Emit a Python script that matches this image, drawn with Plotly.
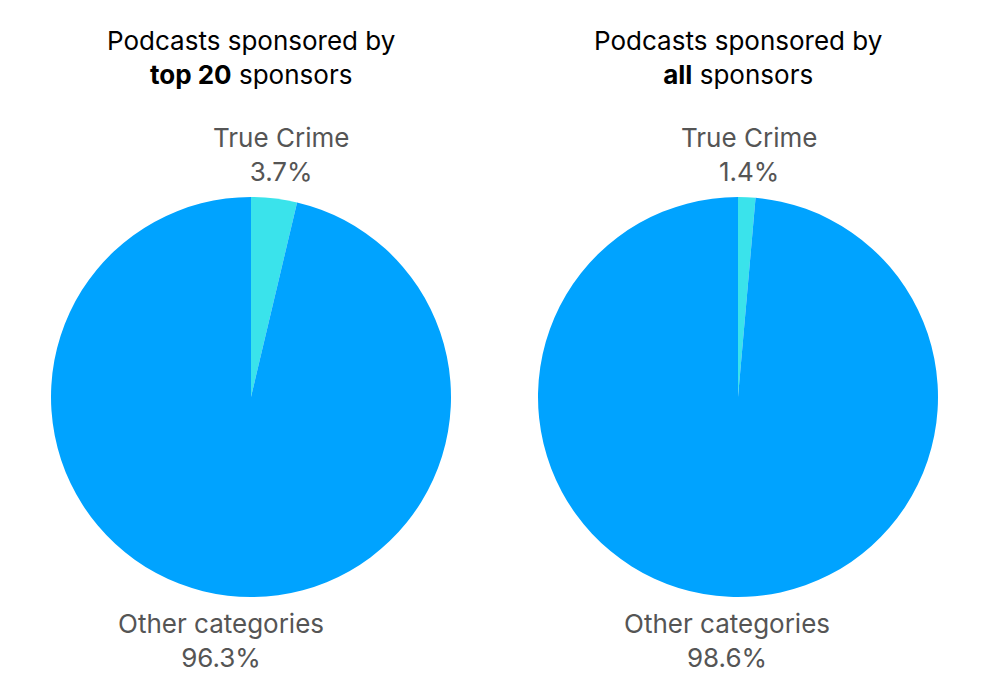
import math
import plotly.graph_objects as go

categories = ["True Crime", "Other categories"]
top20_values = [3.7, 96.3]
all_values = [1.4, 98.6]
titles = ["Podcasts sponsored by<br><b>top 20</b> sponsors",
          "Podcasts sponsored by<br><b>all</b> sponsors"]
colors = ["#3ae3eb", "#00a3ff"]

FONT = "Inter"
W, H = 1000, 700
R = 200
centers = [(243, 389), (730, 389)]

fig = go.Figure()
for vals, (cx, cy), title in zip([top20_values, all_values], centers, titles):
    fig.add_trace(go.Pie(
        labels=categories, values=vals, sort=False, direction="clockwise", rotation=0,
        marker=dict(colors=colors, line=dict(width=0)),
        textinfo="none", showlegend=False, hoverinfo="label+percent",
        domain=dict(x=[(cx - R) / W, (cx + R) / W],
                    y=[1 - (cy + R) / H, 1 - (cy - R) / H]),
    ))
    total = sum(vals)
    cum = 0
    for i, (cat, v) in enumerate(zip(categories, vals)):
        mid = (cum + v / 2) / total * 2 * math.pi
        cum += v
        lx = cx + 255 * math.sin(mid)
        top = i == 0
        fig.add_annotation(
            text=f"{cat}<br>{v / total * 100:.1f}%",
            x=lx / W, y=1 - (181 if top else 598) / H, xref="paper", yref="paper",
            xanchor="center", yanchor="bottom" if top else "top",
            showarrow=False, align="center",
            font=dict(family=FONT, size=26, color="#555555"),
        )
    fig.add_annotation(text=title, x=cx / W, y=1 - 50 / H, xref="paper", yref="paper",
                       showarrow=False, font=dict(family=FONT, size=26, color="#000000"),
                       xanchor="center", yanchor="middle", align="center")

fig.update_layout(width=W, height=H, margin=dict(l=0, r=0, t=0, b=0),
                  paper_bgcolor="white", plot_bgcolor="white",
                  font=dict(family=FONT))
fig.write_html("out.html")
